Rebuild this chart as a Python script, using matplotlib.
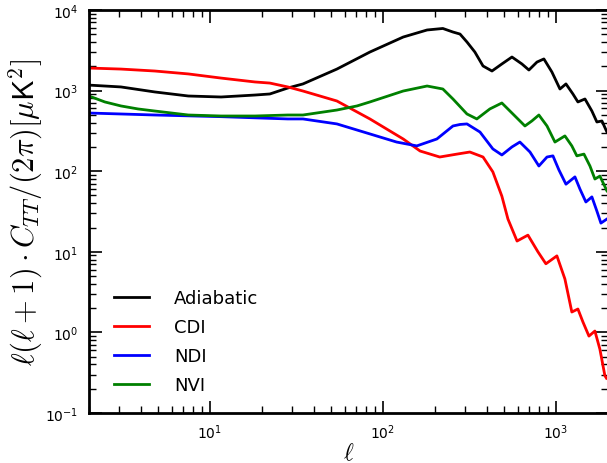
import matplotlib
matplotlib.use("Agg")
import matplotlib.pyplot as plt
import numpy as np

# Data (multipole ell, D_ell in muK^2)
ell_ad = [2, 3.06, 4.8, 7.5, 11.6, 18.2, 22.2, 28.2, 34.5, 54.2, 84.1, 131, 180, 222, 254, 279,
          306, 340, 379, 427, 487, 557, 636, 698, 777, 852, 948, 1055, 1143, 1254, 1340, 1472,
          1614, 1725, 1845, 1972]
adiabatic = [1170, 1110, 962, 857, 833, 881, 908, 1077, 1210, 1850, 3010, 4620, 5650, 5900, 5330, 5030,
             4010, 3010, 2020, 1750, 2140, 2610, 2140, 1800, 2260, 2470, 1700, 1047, 1210, 908, 723, 787,
             558, 408, 420, 306]

ell_cdi = [2, 3.06, 4.8, 7.5, 11.6, 18.2, 22.2, 28.2, 34.5, 54.2, 84.1, 131, 164, 213, 268, 318,
           379, 432, 487, 528, 596, 689, 787, 875, 1013, 1127, 1236, 1340, 1432, 1552, 1680, 1795,
           1919, 1960]
cdi = [1905, 1850, 1750, 1610, 1430, 1280, 1240, 1110, 988, 743, 445, 251, 178, 150, 163, 173,
       150, 98, 49, 25.5, 13.6, 16.1, 10.0, 7.1, 8.9, 4.6, 1.79, 1.95, 1.35, 0.90, 1.04, 0.62,
       0.29, 0.27]

ell_ndi = [2, 4.8, 11.6, 28.2, 34.5, 54.2, 84.1, 120, 157, 205, 254, 279, 306, 364, 432, 487,
           557, 619, 708, 797, 888, 961, 1040, 1143, 1288, 1377, 1490, 1614, 1725, 1820, 1972]
ndi = [527, 498, 475, 445, 445, 386, 290, 230, 206, 251, 364, 380, 386, 306, 189, 159,
       200, 230, 173, 116, 150, 155, 104, 69, 85, 60, 41.5, 48, 32, 22.7, 25.5]

ell_nvi = [2, 2.47, 3.06, 3.84, 4.8, 7.5, 11.6, 18.2, 28.2, 34.5, 54.2, 70.8, 84.1, 131, 180, 222,
           254, 306, 349, 415, 487, 564, 662, 726, 797, 888, 987, 1127, 1236, 1321, 1452, 1573,
           1680, 1795, 1972]
nvi = [857, 723, 645, 592, 558, 498, 484, 484, 498, 498, 574, 645, 723, 988, 1140, 1047,
       787, 513, 445, 592, 702, 513, 364, 420, 498, 364, 230, 274, 206, 155, 163, 116,
       80, 87, 57]

series = [("Adiabatic", ell_ad, adiabatic, "black"),
          ("CDI", ell_cdi, cdi, "red"),
          ("NDI", ell_ndi, ndi, "blue"),
          ("NVI", ell_nvi, nvi, "green")]

plt.rcParams['font.family'] = ['DejaVu Sans']
plt.rcParams['mathtext.fontset'] = 'dejavusans'

fig = plt.figure(figsize=(6.07, 4.64), dpi=100)
ax = fig.add_axes([89/607, 1-414/464, 519/607, 403/464])

for name, x, y, c in series:
    ax.plot(x, y, color=c, lw=2.0, label=name, solid_joinstyle='round')

ax.set_xscale('log')
ax.set_yscale('log')
ax.set_xlim(2, 2000)
ax.set_ylim(0.1, 1e4)

for s in ax.spines.values():
    s.set_linewidth(2)
ax.tick_params(which='both', direction='in', top=True, right=True, labelsize=10)
ax.tick_params(which='major', length=9, width=1.2)
ax.tick_params(which='minor', length=5, width=1.0)
ax.tick_params(axis='x', which='major', pad=7)
ax.tick_params(axis='y', which='major', pad=8)

ax.set_xlabel(r'$\ell$', fontsize=17, math_fontfamily='cm', labelpad=-1)
ax.set_ylabel(r'$\ell(\ell+1)\cdot C_{TT}/(2\pi)[\mu\mathsf{K}^2]$', fontsize=22,
              math_fontfamily='cm', labelpad=0)

leg = ax.legend(loc='lower left', frameon=False, fontsize=13, handlelength=1.9,
                handletextpad=1.4, labelspacing=0.62, borderaxespad=0.0,
                bbox_to_anchor=(0.035, 0.028))
for h in leg.get_lines():
    h.set_linewidth(2)

fig.savefig('out.png', dpi=100)
